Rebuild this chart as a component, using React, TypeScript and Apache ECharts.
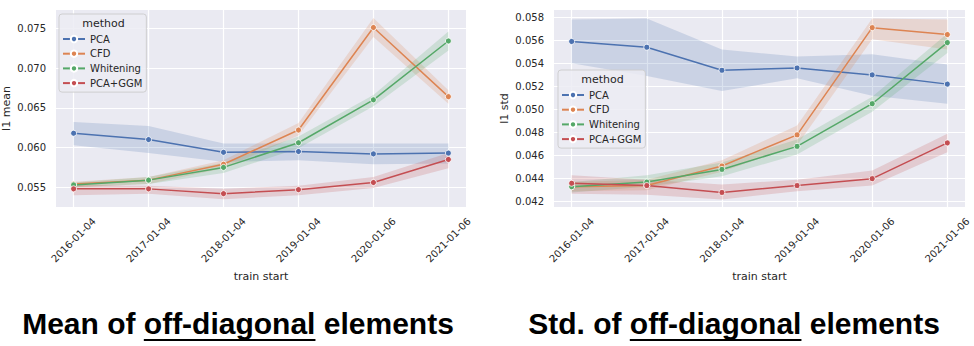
import React, { useEffect, useRef } from "react";
import * as echarts from "echarts";

const dates = ["2016-01-04", "2017-01-04", "2018-01-04", "2019-01-04", "2020-01-06", "2021-01-06"];
const methods = ["PCA", "CFD", "Whitening", "PCA+GGM"];
const colors = ["#4C72B0", "#DD8452", "#55A868", "#C44E52"];

// l1 mean
const meanPCA = [0.0618, 0.0610, 0.0594, 0.0595, 0.0592, 0.0593];
const meanPCALo = [0.0603, 0.0593, 0.0582, 0.0584, 0.0579, 0.0580];
const meanPCAHi = [0.0632, 0.0627, 0.0605, 0.0605, 0.0605, 0.0605];
const meanCFD = [0.0554, 0.0559, 0.0579, 0.0622, 0.0751, 0.0664];
const meanCFDLo = [0.0550, 0.0554, 0.0574, 0.0615, 0.0739, 0.0655];
const meanCFDHi = [0.0557, 0.0563, 0.0584, 0.0631, 0.0763, 0.0672];
const meanWhit = [0.0553, 0.0559, 0.0575, 0.0606, 0.0660, 0.0734];
const meanWhitLo = [0.0550, 0.0554, 0.0568, 0.0599, 0.0652, 0.0722];
const meanWhitHi = [0.0556, 0.0563, 0.0581, 0.0614, 0.0666, 0.0746];
const meanGGM = [0.0548, 0.0548, 0.0542, 0.0547, 0.0556, 0.0585];
const meanGGMLo = [0.0540, 0.0542, 0.0535, 0.0540, 0.0549, 0.0574];
const meanGGMHi = [0.0553, 0.0552, 0.0548, 0.0552, 0.0563, 0.0593];

// l1 std
const stdPCA = [0.0559, 0.0554, 0.0534, 0.0536, 0.0530, 0.0522];
const stdPCALo = [0.0540, 0.0529, 0.0516, 0.0527, 0.0512, 0.0505];
const stdPCAHi = [0.0578, 0.0579, 0.0552, 0.0546, 0.0548, 0.0539];
const stdCFD = [0.0433, 0.0434, 0.0451, 0.0478, 0.0571, 0.0565];
const stdCFDLo = [0.0429, 0.0430, 0.0446, 0.0469, 0.0561, 0.0552];
const stdCFDHi = [0.0437, 0.0439, 0.0456, 0.0486, 0.0579, 0.0578];
const stdWhit = [0.0433, 0.0437, 0.0448, 0.0468, 0.0505, 0.0558];
const stdWhitLo = [0.0428, 0.0433, 0.0442, 0.0461, 0.0498, 0.0549];
const stdWhitHi = [0.0437, 0.0443, 0.0454, 0.0474, 0.0511, 0.0566];
const stdGGM = [0.0436, 0.0434, 0.0428, 0.0434, 0.0440, 0.0471];
const stdGGMLo = [0.0427, 0.0426, 0.0422, 0.0429, 0.0434, 0.0463];
const stdGGMHi = [0.0443, 0.0439, 0.0435, 0.0439, 0.0447, 0.0479];

const meanTicks = [0.055, 0.06, 0.065, 0.07, 0.075];
const stdTicks = [0.042, 0.044, 0.046, 0.048, 0.05, 0.052, 0.054, 0.056, 0.058];

const TXT = "#262626";
const FONT = "DejaVu Sans";

function buildSeries(axisIdx: number, sets: number[][][]) {
  const out: any[] = [];
  sets.forEach((s, m) => {
    const [mid, lo, hi] = s;
    out.push({
      type: "custom",
      name: `${methods[m]} band ${axisIdx}`,
      xAxisIndex: axisIdx,
      yAxisIndex: axisIdx,
      data: lo.map((v, i) => [i, v, hi[i]]),
      encode: { x: 0, y: [1, 2] },
      silent: true,
      z: 2,
      renderItem: (params: any, api: any) => {
        if (params.dataIndex !== 0) return null;
        const pts: number[][] = [];
        for (let i = 0; i < hi.length; i++) pts.push(api.coord([i, hi[i]]));
        for (let i = lo.length - 1; i >= 0; i--) pts.push(api.coord([i, lo[i]]));
        return {
          type: "polygon",
          shape: { points: pts },
          style: { fill: colors[m], opacity: 0.2 },
        };
      },
    });
    out.push({
      type: "line",
      name: methods[m],
      xAxisIndex: axisIdx,
      yAxisIndex: axisIdx,
      data: mid.map((v, i) => [i, v]),
      symbol: "circle",
      symbolSize: 6,
      showSymbol: true,
      lineStyle: { color: colors[m], width: 1.5 },
      itemStyle: { color: colors[m], borderColor: "#fff", borderWidth: 0.8 },
      z: 3,
    });
  });
  return out;
}

function xAxisDef(gridIndex: number) {
  return {
    type: "value",
    gridIndex,
    min: -0.235,
    max: 5.235,
    name: "train start",
    nameLocation: "middle",
    nameGap: 61,
    nameTextStyle: { color: TXT, fontSize: 11, fontFamily: FONT },
    axisLine: { show: false },
    axisTick: { show: false, customValues: [0, 1, 2, 3, 4, 5] },
    axisLabel: {
      customValues: [0, 1, 2, 3, 4, 5],
      rotate: 45,
      align: "center",
      verticalAlign: "middle",
      margin: 33,
      color: TXT,
      fontSize: 10,
      fontFamily: FONT,
      formatter: (v: number) => dates[Math.round(v)] ?? "",
    },
    splitLine: { show: true, lineStyle: { color: "#ffffff", width: 1.2 } },
  };
}

function yAxisDef(gridIndex: number, name: string, min: number, max: number, ticks: number[]) {
  return {
    type: "value",
    gridIndex,
    min,
    max,
    name,
    nameLocation: "middle",
    nameGap: 44,
    nameTextStyle: { color: TXT, fontSize: 11, fontFamily: FONT },
    axisLine: { show: false },
    axisTick: { show: false, customValues: ticks },
    axisLabel: {
      customValues: ticks,
      margin: 10,
      color: TXT,
      fontSize: 10,
      fontFamily: FONT,
      formatter: (v: number) => v.toFixed(3),
    },
    splitLine: { show: true, lineStyle: { color: "#ffffff", width: 1.2 } },
  };
}

function legendDef(left: number, top: number) {
  return {
    left,
    top,
    orient: "vertical",
    data: methods,
    itemWidth: 22,
    itemHeight: 8,
    itemGap: 2.7,
    padding: [19, 4, 3, 3],
    backgroundColor: "rgba(236,236,243,0.85)",
    borderColor: "rgba(204,204,204,0.9)",
    borderWidth: 1,
    borderRadius: 3,
    textStyle: { color: TXT, fontSize: 10, fontFamily: FONT, lineHeight: 12 },
    selectedMode: false,
  };
}

export default function App() {
  const ref = useRef<HTMLDivElement>(null);
  useEffect(() => {
    if (!ref.current) return;
    const chart = echarts.init(ref.current, undefined, { renderer: "svg" });

    const titleFont = 'bold 30px "Liberation Sans", Arial, sans-serif';
    const ctx = document.createElement("canvas").getContext("2d")!;
    ctx.font = titleFont;
    const w = (s: string) => ctx.measureText(s).width;

    const makeTitle = (cx: number, a: string, b: string, c: string) => {
      const wa = w(a), wb = w(b), wc = w(c);
      const x0 = cx - (wa + wb + wc) / 2;
      const base = { fill: "#000", font: titleFont, verticalAlign: "middle", align: "left" };
      return [
        { type: "text", x: x0, y: 323, style: { ...base, text: a } },
        { type: "text", x: x0 + wa, y: 323, style: { ...base, text: b } },
        { type: "text", x: x0 + wa + wb, y: 323, style: { ...base, text: c } },
        { type: "rect", shape: { x: x0 + wa, y: 339, width: wb, height: 2 }, style: { fill: "#000" } },
      ];
    };

    const series = [
      ...buildSeries(0, [
        [meanPCA, meanPCALo, meanPCAHi],
        [meanCFD, meanCFDLo, meanCFDHi],
        [meanWhit, meanWhitLo, meanWhitHi],
        [meanGGM, meanGGMLo, meanGGMHi],
      ]),
      ...buildSeries(1, [
        [stdPCA, stdPCALo, stdPCAHi],
        [stdCFD, stdCFDLo, stdCFDHi],
        [stdWhit, stdWhitLo, stdWhitHi],
        [stdGGM, stdGGMLo, stdGGMHi],
      ]),
    ];

    chart.setOption({
      animation: false,
      backgroundColor: "#ffffff",
      grid: [
        { left: 55, top: 10, width: 411, height: 197, show: true, backgroundColor: "#EAEAF2", borderWidth: 0 },
        { left: 554, top: 10, width: 411, height: 197, show: true, backgroundColor: "#EAEAF2", borderWidth: 0 },
      ],
      xAxis: [xAxisDef(0), xAxisDef(1)],
      yAxis: [
        yAxisDef(0, "l1 mean", 0.05252, 0.0773, meanTicks),
        yAxisDef(1, "l1 std", 0.04154, 0.05863, stdTicks),
      ],
      legend: [legendDef(59, 14), legendDef(558, 70)],
      graphic: [
        { type: "text", x: 103.5, y: 23, z: 100, style: { text: "method", fill: TXT, fontSize: 11, fontFamily: FONT, align: "center", verticalAlign: "middle" } },
        { type: "text", x: 602.5, y: 79, z: 100, style: { text: "method", fill: TXT, fontSize: 11, fontFamily: FONT, align: "center", verticalAlign: "middle" } },
        ...makeTitle(238, "Mean of ", "off-diagonal", " elements"),
        ...makeTitle(734, "Std. of ", "off-diagonal", " elements"),
      ],
      series,
    });
    return () => chart.dispose();
  }, []);
  return <div ref={ref} style={{ position: "absolute", left: 0, top: 0, width: 974, height: 346 }} />;
}
